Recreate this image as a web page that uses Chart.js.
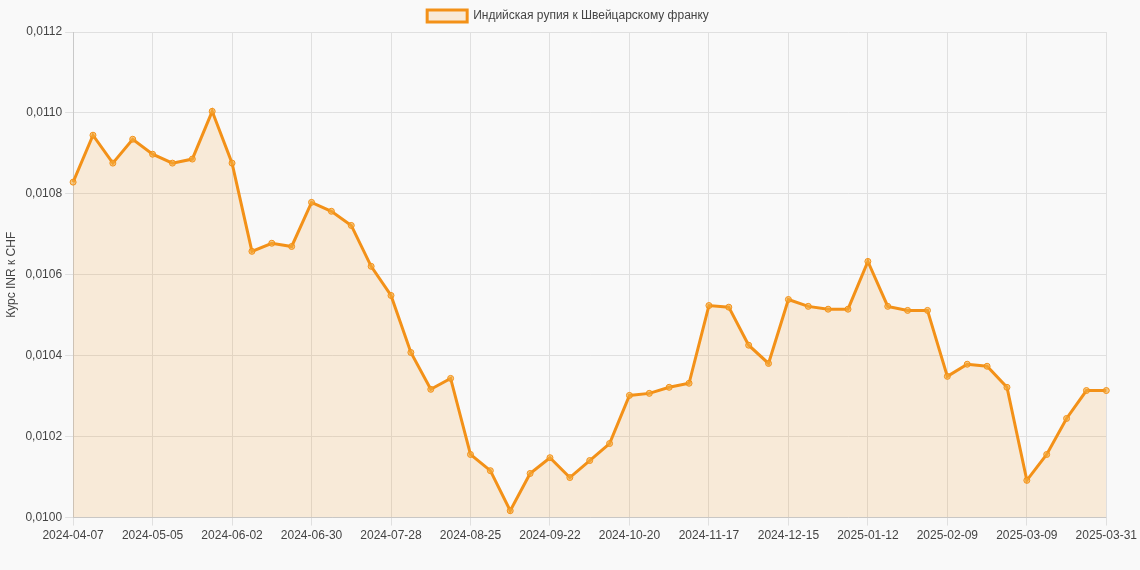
<!DOCTYPE html>
<html><head><meta charset="utf-8">
<script src="https://cdn.jsdelivr.net/npm/chart.js@4/dist/chart.umd.min.js"></script>
<style>html,body{margin:0;background:#f9f9f9;}#w{width:1140px;height:570px;}</style>
</head><body><div id="w"><canvas id="c"></canvas></div>
<script>
const seriesLabel = 'Индийская рупия к Швейцарскому франку';
const yTitle = 'Курс INR к CHF';
const labels = (function(){const a=[];const d=new Date(Date.UTC(2024,3,7));for(let i=0;i<52;i++){const x=new Date(d.getTime()+i*7*86400000);a.push(x.toISOString().slice(0,10));}a.push('2025-03-31');return a;})();
const values = [0.010829,0.010945,0.010876,0.010935,0.010898,0.010876,0.010886,0.011004,0.010876,0.010658,
0.010678,0.010670,0.010779,0.010757,0.010722,0.010621,0.010549,0.010408,0.010317,0.010344,
0.010156,0.010116,0.010017,0.010109,0.010148,0.010099,0.010141,0.010183,0.010302,0.010307,
0.010322,0.010332,0.010524,0.010520,0.010426,0.010381,0.010539,0.010522,0.010515,0.010515,
0.010633,0.010522,0.010512,0.010512,0.010349,0.010379,0.010374,0.010322,0.010092,0.010156,
0.010245,0.010314,0.010314];
Chart.defaults.font.family='"Liberation Sans", Arial, sans-serif';
Chart.defaults.font.size=12;
Chart.defaults.color='#444';
new Chart(document.getElementById('c'),{type:'line',
data:{labels,datasets:[{label:seriesLabel,data:values,borderColor:'#f39118',backgroundColor:'rgba(243,145,24,0.15)',fill:true,borderWidth:3,tension:0,pointRadius:3,pointBackgroundColor:'rgba(243,170,60,0.6)',pointBorderColor:'#f39118',pointBorderWidth:1}]},
options:{responsive:true,maintainAspectRatio:false,animation:false,
layout:{padding:{right:4,bottom:24}},
plugins:{legend:{labels:{boxWidth:40,boxHeight:12}}},
scales:{x:{grid:{color:'#e0e0e0'},ticks:{maxRotation:0,autoSkip:false,callback:function(v,i){return (i%4===0)?labels[i]:null;}}},
y:{min:0.0100,max:0.0112,title:{display:true,text:yTitle},grid:{color:'#e0e0e0'},ticks:{stepSize:0.0002,callback:v=>v.toFixed(4).replace('.',',')}}}}});
</script></body></html>
